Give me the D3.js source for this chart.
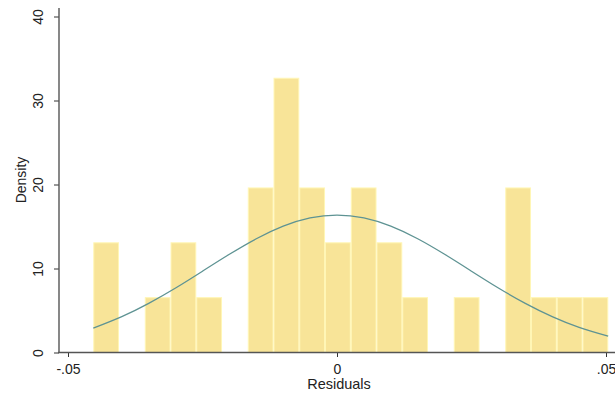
<!DOCTYPE html>
<html>
<head>
<meta charset="utf-8">
<script src="https://cdn.jsdelivr.net/npm/d3@7"></script>
<style>
  html, body { margin: 0; padding: 0; background: #fff; }
  svg { display: block; }
  text { font-family: Arial, "Liberation Sans", sans-serif; fill: #222; }
</style>
</head>
<body>
<svg id="chart" width="615" height="394"></svg>
<script>
// Histogram of residuals (density scale) with a normal density overlay
const binStart = -0.0453;
const binWidth = 0.004786;
const binDensity = [13.06, 0, 6.53, 13.06, 6.53, 0, 19.59, 32.65, 19.59, 13.06,
                    19.59, 13.06, 6.53, 0, 6.53, 0, 19.59, 6.53, 6.53, 6.53];

// Normal density curve, sampled along the residual range
const curveX = [-0.0453, -0.04, -0.035, -0.03, -0.025, -0.02, -0.015, -0.01, -0.005, 0,
                0.005, 0.01, 0.015, 0.02, 0.025, 0.03, 0.035, 0.04, 0.045, 0.0504];
const curveY = [2.9, 4.27, 5.85, 7.68, 9.68, 11.69, 13.54, 15.04, 16.02, 16.36,
                16.02, 15.04, 13.54, 11.69, 9.68, 7.68, 5.85, 4.27, 2.99, 1.94];

const xTicks = [-0.05, 0, 0.05];
const xTickLabels = ["-.05", "0", ".05"];
const yTicks = [0, 10, 20, 30, 40];

const svg = d3.select("#chart");
const x = d3.scaleLinear().domain([-0.05, 0.05]).range([68, 606]);
const y = d3.scaleLinear().domain([0, 40]).range([352.5, 16.5]);

const bins = binDensity.map((d, i) => ({
  x0: binStart + i * binWidth,
  x1: binStart + (i + 1) * binWidth,
  d
}));

// bars
svg.append("g")
  .selectAll("rect")
  .data(bins.filter(b => b.d > 0))
  .join("rect")
  .attr("x", b => x(b.x0) + 0.5)
  .attr("y", b => y(b.d))
  .attr("width", b => x(b.x1) - x(b.x0) - 1)
  .attr("height", b => y(0) - y(b.d))
  .attr("fill", "#f8e498")
  .attr("stroke", "#fff6b6")
  .attr("stroke-width", 1);

// normal density line
const line = d3.line()
  .x((d, i) => x(curveX[i]))
  .y(d => y(d))
  .curve(d3.curveNatural);
svg.append("path")
  .datum(curveY)
  .attr("d", line)
  .attr("fill", "none")
  .attr("stroke", "#5e9393")
  .attr("stroke-width", 1.3);

// y axis
const yAxis = svg.append("g").attr("transform", "translate(59,0)")
  .call(d3.axisLeft(y).tickValues(yTicks).tickSize(5).tickFormat(d3.format("d")));
yAxis.select(".domain").remove();
yAxis.selectAll(".tick line").attr("stroke", "#333");
yAxis.selectAll(".tick text")
  .attr("x", 0).attr("dy", 0)
  .attr("transform", "translate(-16,0) rotate(-90)")
  .attr("text-anchor", "middle")
  .attr("font-size", 14)
  .attr("fill", "#222");
svg.append("line")
  .attr("x1", 59).attr("x2", 59).attr("y1", 8).attr("y2", 353)
  .attr("stroke", "#555").attr("stroke-width", 1.4);

// x axis
const xAxis = svg.append("g").attr("transform", "translate(0,353)")
  .call(d3.axisBottom(x).tickValues(xTicks).tickSize(4)
    .tickFormat((d, i) => xTickLabels[i]));
xAxis.select(".domain").remove();
xAxis.selectAll(".tick line").attr("stroke", "#333");
xAxis.selectAll(".tick text")
  .attr("y", 0).attr("dy", 0)
  .attr("transform", "translate(0,21)")
  .attr("font-size", 14)
  .attr("fill", "#222");
svg.append("line")
  .attr("x1", 58).attr("x2", 615).attr("y1", 352.5).attr("y2", 352.5)
  .attr("stroke", "#555").attr("stroke-width", 1.4);

// axis titles
svg.append("text")
  .attr("transform", "translate(26,180) rotate(-90)")
  .attr("text-anchor", "middle")
  .attr("font-size", 14)
  .text("Density");
svg.append("text")
  .attr("x", 339).attr("y", 389)
  .attr("text-anchor", "middle")
  .attr("font-size", 14.5)
  .text("Residuals");
</script>
</body>
</html>
